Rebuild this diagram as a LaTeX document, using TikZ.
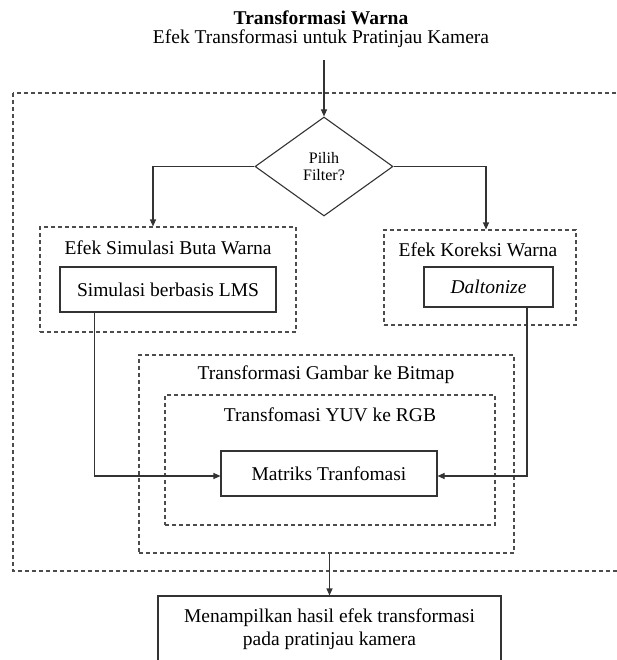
\documentclass[tikz,border=0pt]{standalone}
\usepackage{fontspec}
\setmainfont{Liberation Serif}
\usetikzlibrary{shapes.geometric, positioning, arrows.meta}

\begin{document}
\begin{tikzpicture}[x=1pt, y=-1pt,
        every node/.style={font=\fontsize{19.5}{23}\selectfont},
        procbox/.style={draw=black!80, line width=1.1pt, inner sep=0pt},
        groupbox/.style={draw=black!70, line width=1.1pt, dash pattern=on 4pt off 3pt, inner sep=0pt},
        decide/.style={diamond, draw=black!80, line width=1.1pt, inner sep=0pt, aspect=1.4,
            align=center, font=\fontsize{16}{17}\selectfont},
        flow/.style={draw=black!80, line width=1.1pt, -{Triangle[length=7pt, width=6pt]}}]
        \useasboundingbox (0, 0) rectangle (617, 660);

        % heading
        \node (title) at (321, 18) {\textbf{Transformasi Warna}};
        \node (subtitle) at (321, 39) {Efek Transformasi untuk Pratinjau Kamera};
        \coordinate (entry) at (324, 60);

        % outer frame
        \draw[groupbox] (13, 93) rectangle (645, 571);

        \node[decide, minimum width=138pt, minimum height=99pt] (pick) at (324, 166.5) {Pilih\\Filter?};

        % simulation branch
        \node[groupbox, minimum width=256pt, minimum height=105pt] (simgroup) at (168, 279.5) {};
        \node (simtitle) at (168, 248) {Efek Simulasi Buta Warna};
        \node[procbox, minimum width=216pt, minimum height=45pt] (lms) at (168, 289.5) {Simulasi berbasis LMS};

        % correction branch
        \node[groupbox, minimum width=192pt, minimum height=95pt] (corrgroup) at (480, 277.5) {};
        \node (corrtitle) at (478, 250) {Efek Koreksi Warna};
        \node[procbox, minimum width=129pt, minimum height=40pt] (dalt) at (488.5, 287) {\textit{Daltonize}};

        % bitmap transform
        \node[groupbox, minimum width=375pt, minimum height=198pt] (bmgroup) at (326.5, 454) {};
        \node (bmtitle) at (326, 375) {Transformasi Gambar ke Bitmap};
        \node[groupbox, minimum width=330pt, minimum height=130pt] (yuvgroup) at (330, 460) {};
        \node (yuvtitle) at (330, 415) {Transfomasi YUV ke RGB};
        \node[procbox, minimum width=216pt, minimum height=45pt] (mat) at (329, 473.5) {Matriks Tranfomasi};

        % result
        \node[procbox, minimum width=343pt, minimum height=66pt, align=center] (out) at (329.5, 629)
            {Menampilkan hasil efek transformasi\\pada pratinjau kamera};

        % connectors
        \draw[flow] (entry) -- (pick.north);
        \draw[flow] (pick.west) -| ([xshift=-15pt]simgroup.north);
        \draw[flow] (pick.east) -| ([xshift=6pt]corrgroup.north);
        \draw[flow] ([xshift=-73.5pt]lms.south) |- ([yshift=-2.5pt]mat.west);
        \draw[flow] ([xshift=38.5pt]dalt.south) |- ([yshift=-2.5pt]mat.east);
        \draw[flow] (out.north |- bmgroup.south) -- (out.north);
    \end{tikzpicture}
\end{document}
